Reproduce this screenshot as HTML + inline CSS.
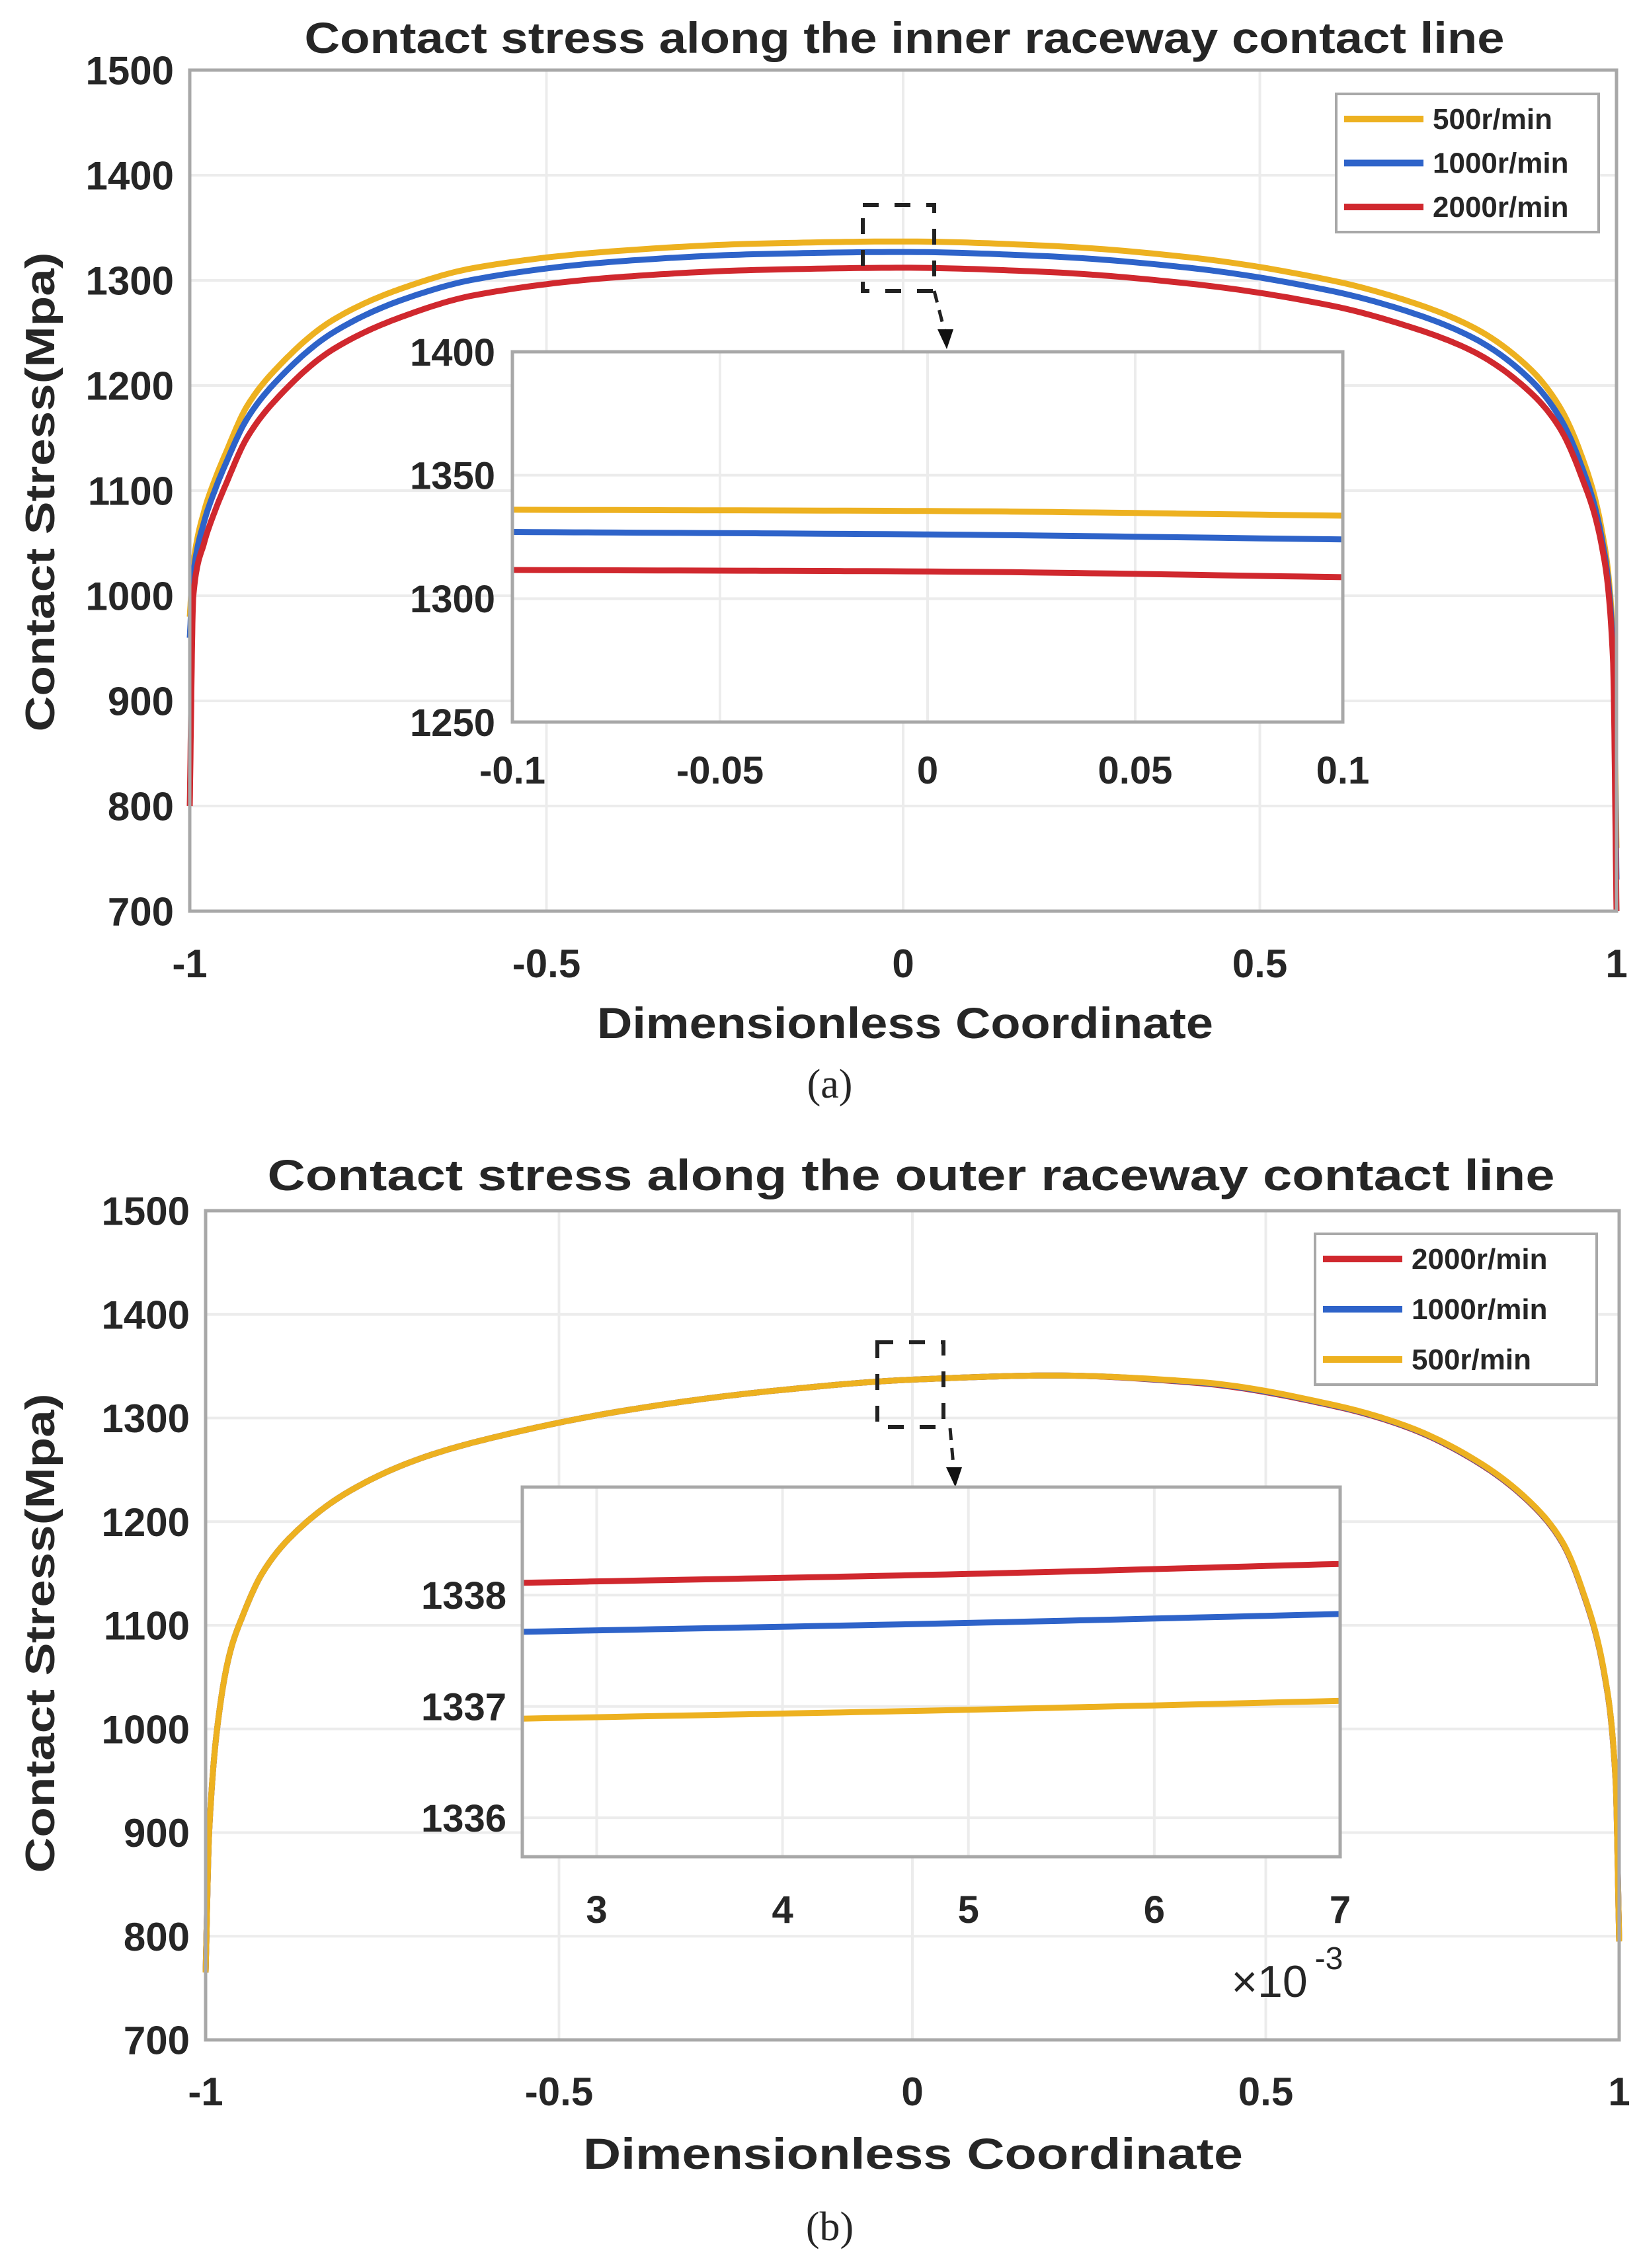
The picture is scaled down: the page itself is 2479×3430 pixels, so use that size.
<!DOCTYPE html>
<html><head><meta charset="utf-8"><style>
html,body{margin:0;padding:0;background:#fff}
svg{display:block}
text{font-family:"Liberation Sans",Arial,sans-serif;font-weight:bold;fill:#262626}
</style></head><body>
<svg id="fig" xmlns="http://www.w3.org/2000/svg" width="2479" height="3430" viewBox="0 0 2479 3430"></svg>
<script>
// ---- data: panel (a) inner raceway ----
const xA = [-1,-0.995,-0.98,-0.965,-0.95,-0.92,-0.88,-0.8,-0.7,-0.6,-0.4,-0.2,0,0.2,0.4,0.6,0.7,0.8,0.88,0.92,0.95,0.98,0.995,1];
const a500 = [980,1030,1080,1110,1135,1180,1215,1262,1293,1312,1328,1335,1337,1333,1322,1300,1282,1255,1215,1180,1135,1060,960,760];
const a1000 = [960,1020,1070,1100,1125,1168,1203,1250,1282,1301,1318,1325,1327,1323,1312,1290,1272,1245,1205,1170,1125,1052,950,730];
const a2000 = [800,1000,1050,1080,1105,1150,1186,1234,1266,1286,1303,1310,1312,1308,1297,1276,1258,1232,1193,1160,1115,1045,940,700];
const insetAx = [-0.1,0,0.1];
const insetA500 = [1336,1335.5,1333.6];
const insetA1000 = [1327,1326,1324];
const insetA2000 = [1311.6,1311,1308.7];
// ---- data: panel (b) outer raceway ----
const xB = [-1,-0.995,-0.98,-0.965,-0.95,-0.92,-0.88,-0.8,-0.7,-0.6,-0.4,-0.2,0,0.2,0.4,0.6,0.7,0.8,0.88,0.92,0.95,0.98,0.995,1];
const b2000 = [765,900,1020,1075,1105,1150,1185,1228,1260,1280,1308,1326,1337,1341,1334,1311,1291,1257,1214,1179,1129,1049,949,795];
const b1000 = [765,900,1020,1075,1105,1150,1185,1228,1260,1280,1308,1326,1337,1341,1334.5,1311.5,1291.5,1257.5,1214.5,1179.5,1129.5,1049.5,949.5,795];
const b500 = [765,900,1020,1075,1105,1150,1185,1228,1260,1280,1308,1326,1337,1341,1335,1312,1292,1258,1215,1180,1130,1050,950,795];
const insetBx = [2.6,5,7];
const insetB2000 = [1338.11,1338.19,1338.28];
const insetB1000 = [1337.67,1337.75,1337.83];
const insetB500 = [1336.89,1336.97,1337.05];
const mainYTicks = [700,800,900,1000,1100,1200,1300,1400,1500];
const mainXTicks = [-1,-0.5,0,0.5,1];
const mainXLabels = ['-1','-0.5','0','0.5','1'];
const insetAYTicks = [1250,1300,1350,1400];
const insetAXTicks = [-0.1,-0.05,0,0.05,0.1];
const insetAXLabels = ['-0.1','-0.05','0','0.05','0.1'];
const insetBYTicks = [1336,1337,1338];
const insetBXTicks = [3,4,5,6,7];

const NS='http://www.w3.org/2000/svg';
const svg=document.getElementById('fig');
function el(tag,attrs,parent,txt){const e=document.createElementNS(NS,tag);for(const k in attrs)e.setAttribute(k,attrs[k]);if(txt!==undefined)e.textContent=txt;(parent||svg).appendChild(e);return e;}
function lin(d0,d1,r0,r1){return v=>r0+(v-d0)*(r1-r0)/(d1-d0);}
// monotone cubic interpolation (Fritsch-Carlson) in data space
function monotone(xs,ys){const n=xs.length,h=[],d=[],m=new Array(n);
 for(let i=0;i<n-1;i++){h[i]=xs[i+1]-xs[i];d[i]=(ys[i+1]-ys[i])/h[i];}
 m[0]=d[0];m[n-1]=d[n-2];
 for(let i=1;i<n-1;i++){if(d[i-1]*d[i]<=0)m[i]=0;else{const w1=2*h[i]+h[i-1],w2=h[i]+2*h[i-1];m[i]=(w1+w2)/(w1/d[i-1]+w2/d[i]);}}
 return x=>{let i=0;while(i<n-2&&x>xs[i+1])i++;const t=(x-xs[i])/h[i],t2=t*t,t3=t2*t;
  return (2*t3-3*t2+1)*ys[i]+(t3-2*t2+t)*h[i]*m[i]+(-2*t3+3*t2)*ys[i+1]+(t3-t2)*h[i]*m[i+1];};}
function curvePath(xs,ys,X,Y){const f=monotone(xs,ys);const pts=[];
 for(let i=0;i<xs.length-1;i++){const steps=20;for(let k=0;k<steps;k++){const x=xs[i]+(xs[i+1]-xs[i])*k/steps;pts.push([X(x),Y(f(x))]);}}
 pts.push([X(xs[xs.length-1]),Y(ys[ys.length-1])]);
 return 'M'+pts.map(p=>p[0].toFixed(1)+','+p[1].toFixed(1)).join(' L');}
const COL={y:'#EDB120',b:'#2E63C9',r:'#D0282E'};

function axes(o){
 const g=el('g',{});
 
 
 const X=lin(o.xd[0],o.xd[1],o.L,o.R),Y=lin(o.yd[0],o.yd[1],o.B,o.T);
 el('rect',{x:o.L,y:o.T,width:o.R-o.L,height:o.B-o.T,fill:'#fff'},g);
 o.yt.forEach(v=>{const l=el('line',{x1:o.L,x2:o.R,y1:Y(v),y2:Y(v),stroke:'#ececec','stroke-width':4},g);
  
  const t=el('text',{x:o.L-o.ylgap,y:Y(v)+o.fs*0.36,'text-anchor':'end','font-size':o.fs},g,String(v));
  });
 o.xt.forEach((v,i)=>{const l=el('line',{x1:X(v),x2:X(v),y1:o.T,y2:o.B,stroke:'#ececec','stroke-width':4},g);
  
  const t=el('text',{x:X(v),y:o.xly,'text-anchor':'middle','font-size':o.fs},g,o.xl[i]);
  });
 o.series.forEach(s=>{const p=el('path',{d:curvePath(s.x,s.y,X,Y),fill:'none',stroke:s.c,'stroke-width':o.sw,'stroke-linejoin':'round'},g);
  });
 const f=el('rect',{x:o.L,y:o.T,width:o.R-o.L,height:o.B-o.T,fill:'none',stroke:'#a8a8a8','stroke-width':5},g);
 
 return g;}

function legend(x,y,w,h,rows,name){const g=el('g',{});
 
 el('rect',{x:x,y:y,width:w,height:h,fill:'#fff',stroke:'#a8a8a8','stroke-width':4},g);
 rows.forEach((r,i)=>{const cy=y+38+i*(h-76)/2;
  el('line',{x1:x+12,x2:x+132,y1:cy,y2:cy,stroke:r.c,'stroke-width':10},g);
  const t=el('text',{x:x+146,y:cy+15,'font-size':44},g,r.t);
  });}

function dashbox(x,y,w,h,ax,ay,bx,by){const g=el('g',{});
 
 el('rect',{x:x,y:y,width:w,height:h,fill:'none',stroke:'#222','stroke-width':6,'stroke-dasharray':'24,24'},g);
 el('line',{x1:ax,y1:ay,x2:bx,y2:by-22,stroke:'#222','stroke-width':5,'stroke-dasharray':'18,12'},g);
 el('polygon',{points:`${bx-12},${by-30} ${bx+12},${by-30} ${bx+2},${by}`,fill:'#111'},g);}

function txt(x,y,s,size,name,extra){const t=el('text',Object.assign({x:x,y:y,'font-size':size,'text-anchor':'middle'},extra||{}),svg,s);
 return t;}

// ===== Panel (a) =====
txt(1368,80,'Contact stress along the inner raceway contact line',66,'title-a',{textLength:1815,lengthAdjust:'spacingAndGlyphs'});
axes({name:'main-axes-a',L:287,R:2445,T:106,B:1378,xd:[-1,1],yd:[700,1500],yt:mainYTicks,xt:mainXTicks,xl:mainXLabels,fs:60,ylgap:24,xly:1478,sw:9,
 series:[{x:xA,y:a500,c:COL.y,n:'line-500-a'},{x:xA,y:a1000,c:COL.b,n:'line-1000-a'},{x:xA,y:a2000,c:COL.r,n:'line-2000-a'}]});
legend(2021,142,397,209,[{c:COL.y,t:'500r/min'},{c:COL.b,t:'1000r/min'},{c:COL.r,t:'2000r/min'}],'legend-a');
dashbox(1305,310,108,130,1413,440,1430,528);
axes({name:'inset-axes-a',L:775,R:2031,T:532,B:1092,xd:[-0.1,0.1],yd:[1250,1400],yt:insetAYTicks,xt:insetAXTicks,xl:insetAXLabels,fs:58,ylgap:26,xly:1185,sw:9,
 series:[{x:insetAx,y:insetA500,c:COL.y,n:'inset-line-500-a'},{x:insetAx,y:insetA1000,c:COL.b,n:'inset-line-1000-a'},{x:insetAx,y:insetA2000,c:COL.r,n:'inset-line-2000-a'}]});
txt(1369,1570,'Dimensionless Coordinate',66,'x-axis-title-a',{textLength:932,lengthAdjust:'spacingAndGlyphs'});
txt(0,0,'Contact Stress(Mpa)',62,'y-axis-title-a',{transform:'translate(82,744) rotate(-90)',textLength:725,lengthAdjust:'spacingAndGlyphs'});
txt(1255,1660,'(a)',62,'caption-a',{style:'font-family:"Liberation Serif",serif;font-weight:normal'});

// ===== Panel (b) =====
txt(1378,1800,'Contact stress along the outer raceway contact line',66,'title-b',{textLength:1947,lengthAdjust:'spacingAndGlyphs'});
axes({name:'main-axes-b',L:311,R:2449,T:1831,B:3085,xd:[-1,1],yd:[700,1500],yt:mainYTicks,xt:mainXTicks,xl:mainXLabels,fs:60,ylgap:24,xly:3184,sw:9,
 series:[{x:xB,y:b2000,c:COL.r,n:'line-2000-b'},{x:xB,y:b1000,c:COL.b,n:'line-1000-b'},{x:xB,y:b500,c:COL.y,n:'line-500-b'}]});
legend(1989,1866,426,228,[{c:COL.r,t:'2000r/min'},{c:COL.b,t:'1000r/min'},{c:COL.y,t:'500r/min'}],'legend-b');
dashbox(1327,2030,100,128,1437,2160,1443,2249);
axes({name:'inset-axes-b',L:790,R:2027,T:2249,B:2808,xd:[2.6,7],yd:[1335.65,1338.97],yt:insetBYTicks,xt:insetBXTicks,xl:['3','4','5','6','7'],fs:58,ylgap:24,xly:2908,sw:9,
 series:[{x:insetBx,y:insetB2000,c:COL.r,n:'inset-line-2000-b'},{x:insetBx,y:insetB1000,c:COL.b,n:'inset-line-1000-b'},{x:insetBx,y:insetB500,c:COL.y,n:'inset-line-500-b'}]});
txt(1920,3020,'×10',68,'x-exponent-label',{style:'font-weight:normal'});
txt(2010,2978,'-3',48,'x-exponent-power',{style:'font-weight:normal'});
txt(1381,3280,'Dimensionless Coordinate',66,'x-axis-title-b',{textLength:998,lengthAdjust:'spacingAndGlyphs'});
txt(0,0,'Contact Stress(Mpa)',62,'y-axis-title-b',{transform:'translate(82,2470) rotate(-90)',textLength:725,lengthAdjust:'spacingAndGlyphs'});
txt(1255,3388,'(b)',62,'caption-b',{style:'font-family:"Liberation Serif",serif;font-weight:normal'});
</script>
</body></html>
